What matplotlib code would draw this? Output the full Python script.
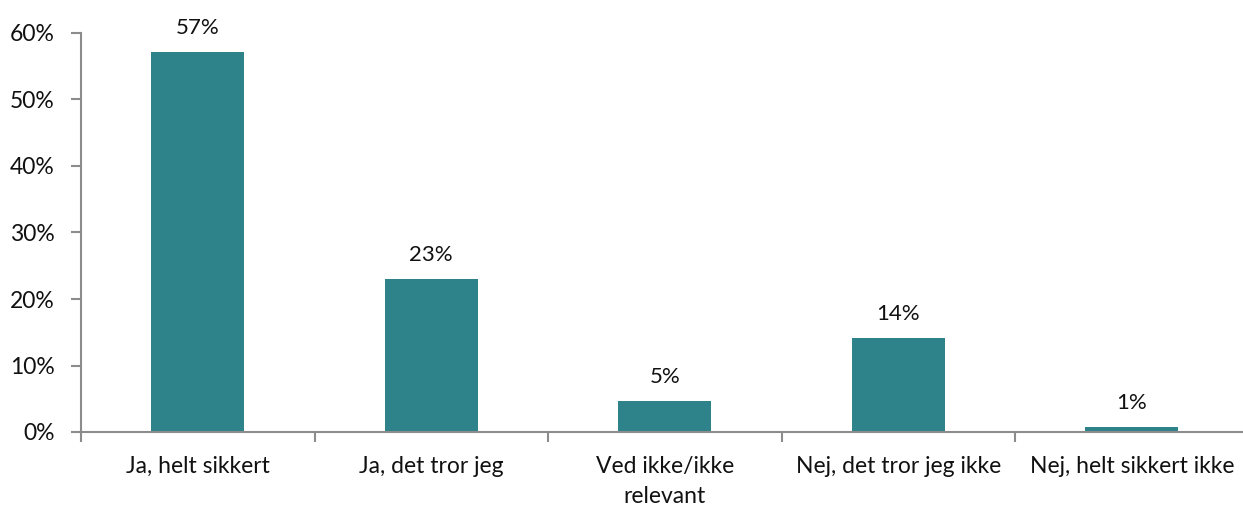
import numpy as np
import matplotlib
matplotlib.use('Agg')
import matplotlib.pyplot as plt

plt.rcParams['font.family'] = ['Lato', 'DejaVu Sans']

categories = ['Ja, helt sikkert', 'Ja, det tror jeg', 'Ved ikke/ikke\nrelevant',
              'Nej, det tror jeg ikke', 'Nej, helt sikkert ikke']
values = [57.2, 23.0, 4.7, 14.2, 0.7]
labels = ['57%', '23%', '5%', '14%', '1%']

bar_color = '#2E8289'
axis_color = '#8C8C8C'

fig = plt.figure(figsize=(12.43, 5.08), dpi=100)
ax = fig.add_axes([81 / 1243, 76 / 508, 1167.5 / 1243, 399 / 508])

x = np.arange(len(categories))
bars = ax.bar(x, values, width=0.4, color=bar_color, zorder=2)

for bar, lab in zip(bars, labels):
    ax.annotate(lab, (bar.get_x() + bar.get_width() / 2, bar.get_height()),
                xytext=(0, 10), textcoords='offset points',
                ha='center', va='bottom', fontsize=16, color='#111111')

ax.set_xlim(-0.5, len(categories) - 0.5)
ax.set_ylim(0, 60)
ax.set_yticks(np.arange(0, 61, 10))
ax.set_yticklabels([f'{v}%' for v in range(0, 61, 10)])

ax.set_xticks(x)
ax.set_xticklabels(categories, linespacing=1.55)
ax.set_xticks(np.arange(-0.5, len(categories), 1), minor=True)
ax.tick_params(axis='x', which='major', length=0, pad=17, labelsize=16.5, labelcolor='#111111')
ax.tick_params(axis='x', which='minor', length=7, width=1.5, color=axis_color, direction='out')
ax.tick_params(axis='y', length=7, width=1.5, color=axis_color, pad=12, labelsize=16.5, labelcolor='#111111')

for s in ['top', 'right']:
    ax.spines[s].set_visible(False)
for s in ['left', 'bottom']:
    ax.spines[s].set_color(axis_color)
    ax.spines[s].set_linewidth(1.5)

fig.savefig('out.png', dpi=100)
